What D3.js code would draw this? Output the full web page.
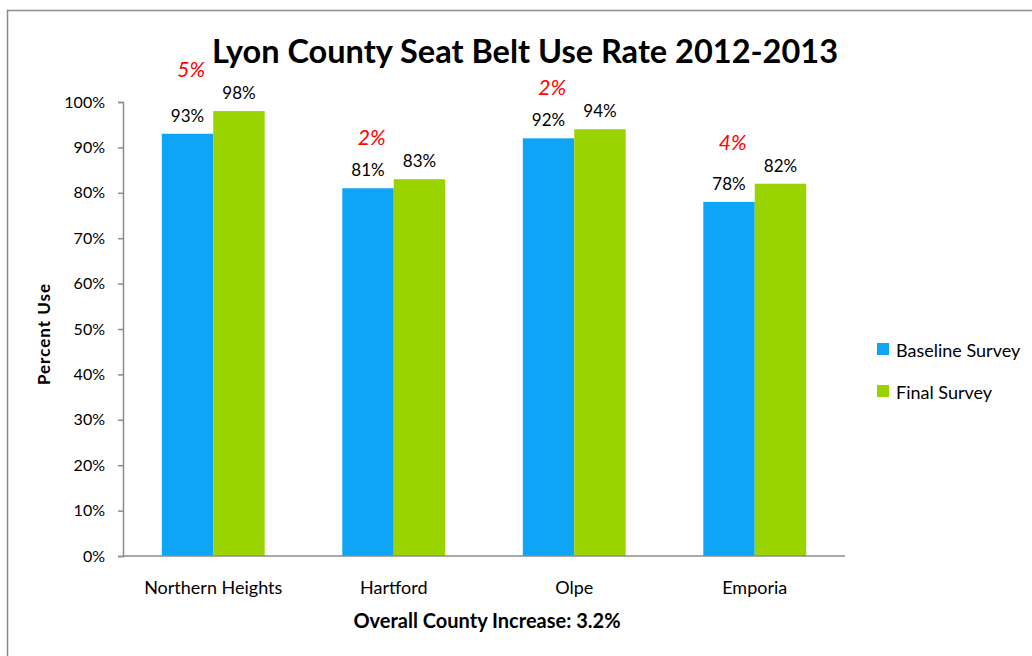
<!DOCTYPE html>
<html>
<head>
<meta charset="utf-8">
<script src="https://cdn.jsdelivr.net/npm/d3@7"></script>
<style>
  body { margin: 0; background: #fff; }
  svg { font-family: Lato, "Open Sans", sans-serif; }
</style>
</head>
<body>
<svg id="chart" width="1032" height="656"></svg>
<script>
// chart data
var sites = ["Northern Heights", "Hartford", "Olpe", "Emporia"];
var baseline = [93, 81, 92, 78];
var finalSurvey = [98, 83, 94, 82];
var increase = ["5%", "2%", "2%", "4%"];
var yTicks = [0, 10, 20, 30, 40, 50, 60, 70, 80, 90, 100];
var seriesNames = ["Baseline Survey", "Final Survey"];
var seriesColors = ["#0ea5f6", "#99d400"];

var svg = d3.select("#chart");

// outer frame (only top and left edges show in the picture)
svg.append("path")
    .attr("d", "M7.5,656 L7.5,10.5 L1032,10.5")
    .attr("fill", "none")
    .attr("stroke", "#8c8c8c")
    .attr("stroke-width", 1.5);

var margin = { left: 123, right: 845, top: 102, bottom: 556 };

var x = d3.scaleBand()
    .domain(sites)
    .range([margin.left, margin.right])
    .paddingInner(0.43)
    .paddingOuter(0.215);

var inner = d3.scaleBand()
    .domain([0, 1])
    .range([0, x.bandwidth()]);

var y = d3.scaleLinear()
    .domain([0, 100])
    .range([margin.bottom, margin.top]);

// title
svg.append("text")
    .attr("x", 525)
    .attr("y", 63)
    .attr("text-anchor", "middle")
    .attr("font-size", 32.5)
    .attr("font-weight", "bold")
    .attr("fill", "#000")
    .text("Lyon County Seat Belt Use Rate 2012-2013");

// y axis
var yAxis = svg.append("g")
    .attr("transform", "translate(" + margin.left + ",0)")
    .call(d3.axisLeft(y).tickValues(yTicks).tickSize(5).tickPadding(13)
      .tickFormat(function(d) { return d + "%"; }));
yAxis.select(".domain").attr("stroke", "#8c8c8c").attr("stroke-width", 1.5);
yAxis.selectAll(".tick line").attr("stroke", "#8c8c8c").attr("stroke-width", 1.5);
yAxis.selectAll(".tick text")
    .attr("font-size", 16)
    .attr("font-family", "Lato, sans-serif")
    .attr("fill", "#000");

// y label
svg.append("text")
    .attr("transform", "translate(50,334) rotate(-90)")
    .attr("text-anchor", "middle")
    .attr("font-size", 17)
    .attr("font-weight", "bold")
    .attr("letter-spacing", 1)
    .text("Percent Use");

// bars
var groups = svg.append("g").selectAll("g")
    .data(sites)
    .enter().append("g")
    .attr("transform", function(d) { return "translate(" + x(d) + ",0)"; });

groups.each(function(site, i) {
  var g = d3.select(this);
  var vals = [baseline[i], finalSurvey[i]];
  vals.forEach(function(v, s) {
    g.append("rect")
        .attr("x", inner(s))
        .attr("y", y(v))
        .attr("width", inner.bandwidth())
        .attr("height", y(0) - y(v))
        .attr("fill", seriesColors[s]);
    g.append("text")
        .attr("x", inner(s) + inner.bandwidth() / 2)
        .attr("y", y(v) - 12)
        .attr("text-anchor", "middle")
        .attr("font-size", 17)
        .attr("fill", "#000")
        .text(v + "%");
  });
  // red change label
  g.append("text")
      .attr("x", x.bandwidth() / 2 - 22)
      .attr("y", y(finalSurvey[i]) - 34)
      .attr("text-anchor", "middle")
      .attr("font-size", 21)
      .attr("font-style", "italic")
      .attr("fill", "#ff0000")
      .text(increase[i]);
});

// x axis
var xAxis = svg.append("g")
    .attr("transform", "translate(0," + margin.bottom + ")")
    .call(d3.axisBottom(x).tickSize(0).tickPadding(25));
xAxis.select(".domain").attr("stroke", "#8c8c8c").attr("stroke-width", 1.5)
    .attr("d", "M" + margin.left + ",0H" + margin.right);
xAxis.selectAll(".tick text")
    .attr("font-size", 18)
    .attr("font-family", "Lato, sans-serif")
    .attr("fill", "#000");

// x label
svg.append("text")
    .attr("x", 487)
    .attr("y", 628)
    .attr("text-anchor", "middle")
    .attr("font-size", 20)
    .attr("font-weight", "bold")
    .text("Overall County Increase: 3.2%");

// legend
var legend = svg.append("g").selectAll("g")
    .data(seriesNames)
    .enter().append("g")
    .attr("transform", function(d, i) { return "translate(877," + (343 + i * 42) + ")"; });
legend.append("rect")
    .attr("width", 12)
    .attr("height", 12)
    .attr("fill", function(d, i) { return seriesColors[i]; });
legend.append("text")
    .attr("x", 19)
    .attr("y", 14)
    .attr("font-size", 18)
    .text(function(d) { return d; });
</script>
</body>
</html>
